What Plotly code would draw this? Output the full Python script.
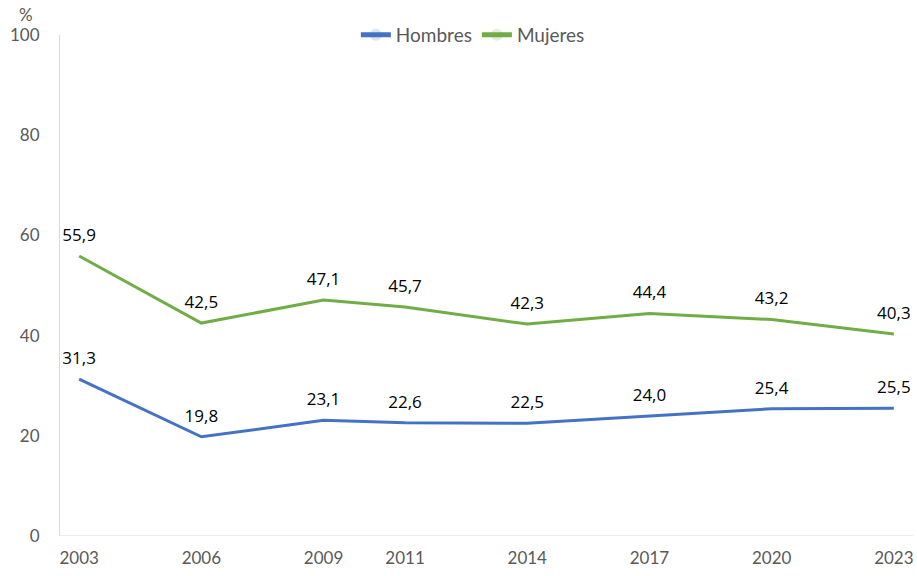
import plotly.graph_objects as go

# data
years = [2003, 2006, 2009, 2011, 2014, 2017, 2020, 2023]
hombres = [31.3, 19.8, 23.1, 22.6, 22.5, 24.0, 25.4, 25.5]
mujeres = [55.9, 42.5, 47.1, 45.7, 42.3, 44.4, 43.2, 40.3]
y_ticks = [0, 20, 40, 60, 80, 100]

tick_font = "Lato"
label_font = "Open Sans"
gray = "#595959"


def serie(nombre, valores, color):
    # invisible markers only push the labels up off the line
    return go.Scatter(x=years, y=valores, name=nombre,
                      mode="lines+markers+text",
                      line=dict(color=color, width=3),
                      marker=dict(size=16, opacity=0),
                      texttemplate="%{y:.1f}", textposition="top center",
                      textfont=dict(family=label_font, size=17, color="#000000"),
                      cliponaxis=False)


fig = go.Figure()
fig.add_trace(serie("Hombres", hombres, "#4472C4"))
fig.add_trace(serie("Mujeres", mujeres, "#70AD47"))

fig.update_layout(
    width=917, height=576,
    margin=dict(l=60, r=4, t=35, b=40, autoexpand=False),
    plot_bgcolor="white", paper_bgcolor="white",
    separators=",.",
    font=dict(family=tick_font, size=17, color=gray),
    showlegend=True,
    legend=dict(orientation="h", x=0.484, xanchor="center", y=1.0, yanchor="middle",
                font=dict(family=tick_font, size=19, color=gray),
                itemwidth=30, tracegroupgap=0, itemsizing="constant",
                bgcolor="rgba(0,0,0,0)"),
    xaxis=dict(range=[2002.53, 2023.47], tickmode="array", tickvals=years,
               ticktext=[str(y) for y in years], showgrid=False, zeroline=False,
               showline=False, ticks="", ticklabelstandoff=10,
               tickfont=dict(size=17, color=gray)),
    yaxis=dict(range=[0, 100], tickvals=y_ticks, showgrid=False, zeroline=False,
               showline=True, linecolor="#D9D9D9", linewidth=1, ticks="",
               ticklabelstandoff=16, tickfont=dict(size=17, color=gray)),
    shapes=[dict(type="line", xref="paper", yref="y", x0=0, x1=1, y0=0, y1=0,
                 line=dict(color="#D9D9D9", width=1))],
    annotations=[dict(text="%", xref="paper", yref="paper", x=-0.04, y=1.015,
                      xanchor="center", yanchor="bottom", showarrow=False,
                      font=dict(family=tick_font, size=17, color=gray))],
)

fig.write_html("out.html", config={"displayModeBar": False},
               post_script="document.body.style.margin='0px';")
